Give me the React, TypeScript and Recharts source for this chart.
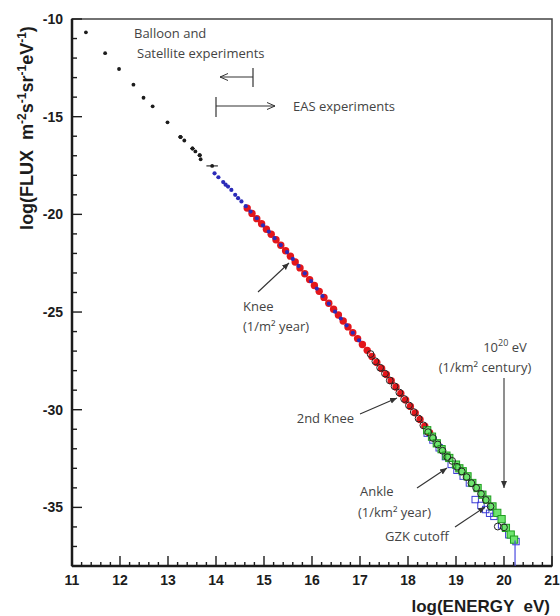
import React from "react";
import { ScatterChart, Scatter, XAxis, YAxis, ReferenceArea, ErrorBar } from "recharts";

// axis ticks
const X_MAJOR = [11, 12, 13, 14, 15, 16, 17, 18, 19, 20, 21];
const Y_MAJOR = [-10, -15, -20, -25, -30, -35];
const X_TICKS = Array.from({ length: 51 }, (_, i) => +(11 + i * 0.2).toFixed(1));
const Y_TICKS = Array.from({ length: 28 }, (_, i) => -10 - i);

// [log E, log flux]
const BALLOON = [
  [11.29, -10.68], [11.69, -11.75], [11.98, -12.56], [12.28, -13.36], [12.49, -14.03],
  [12.68, -14.47], [12.99, -15.29], [13.26, -16.04], [13.34, -16.22], [13.51, -16.63],
  [13.57, -16.78], [13.66, -16.97], [13.68, -17.18],
];
// [log E, log flux, half width]
const BALLOON_BARS = [
  [13.26, -16.04, 0.05], [13.51, -16.63, 0.05], [13.66, -16.97, 0.04], [13.92, -17.52, 0.12],
];
const DIRECT_BLUE = [
  [13.97, -17.9], [14.05, -18.1], [14.15, -18.35], [14.2, -18.48], [14.25, -18.58],
  [14.32, -18.75], [14.4, -19.0], [14.46, -19.17], [14.53, -19.34], [14.62, -19.58],
  [14.72, -19.86], [14.85, -20.2], [14.98, -20.56], [15.1, -20.88], [15.22, -21.22],
  [15.35, -21.57], [15.48, -21.93], [15.6, -22.28], [15.72, -22.64], [15.85, -23.02],
  [15.98, -23.42], [16.1, -23.8], [16.22, -24.18], [16.35, -24.57], [16.48, -24.98],
  [16.6, -25.33], [16.72, -25.68], [16.85, -26.06], [16.98, -26.45],
];
const EAS_RED = [
  [14.65, -19.68], [14.75, -19.95], [14.85, -20.22], [14.95, -20.48], [15.05, -20.76],
  [15.15, -21.02], [15.25, -21.3], [15.35, -21.58], [15.45, -21.86], [15.55, -22.14],
  [15.65, -22.44], [15.75, -22.74], [15.85, -23.04], [15.95, -23.34], [16.05, -23.64],
  [16.15, -23.94], [16.25, -24.25], [16.35, -24.55], [16.45, -24.86], [16.55, -25.15],
  [16.65, -25.46], [16.75, -25.76], [16.85, -26.06], [16.95, -26.36], [17.05, -26.66],
  [17.15, -26.96], [17.25, -27.27], [17.35, -27.58], [17.45, -27.89], [17.55, -28.2],
  [17.65, -28.52], [17.75, -28.84], [17.85, -29.17], [17.95, -29.5], [18.05, -29.83],
  [18.15, -30.16], [18.25, -30.5], [18.35, -30.84], [18.45, -31.18],
];
const OPEN_BLACK = [
  [17.22, -27.15], [17.32, -27.52], [17.42, -27.85], [17.52, -28.15], [17.62, -28.5],
  [17.72, -28.8], [17.82, -29.12], [17.92, -29.45], [18.02, -29.78], [18.12, -30.12],
  [18.22, -30.45], [18.32, -30.8], [18.42, -31.15], [18.52, -31.45], [18.62, -31.78],
  [18.72, -32.1], [18.82, -32.42], [18.92, -32.62], [19.02, -32.92], [19.12, -33.16],
  [19.22, -33.45], [19.32, -33.76], [19.42, -34.0], [19.52, -34.3], [19.62, -34.62],
  [19.72, -34.95], [19.87, -35.98], [20.0, -36.02],
];
const GREEN_SQ = [
  [18.4, -31.05], [18.5, -31.38], [18.6, -31.72], [18.7, -32.02], [18.8, -32.35],
  [18.86, -32.47], [19.0, -32.81], [19.07, -33.0], [19.14, -33.15], [19.24, -33.41],
  [19.34, -33.75], [19.45, -34.01], [19.55, -34.35], [19.65, -34.6], [19.76, -34.95],
  [19.86, -35.28], [19.95, -35.6], [20.04, -36.05], [20.14, -36.39], [20.21, -36.65],
];
const BLUE_SQ = [
  [18.4, -31.2], [18.52, -31.55], [18.65, -31.95], [18.78, -32.4], [18.9, -32.8],
  [19.02, -33.1], [19.15, -33.4], [19.28, -33.75], [19.4, -34.6], [19.52, -34.9],
  [19.62, -35.11], [19.7, -35.3], [19.79, -35.46], [19.95, -35.9], [20.1, -36.4],
  [20.25, -36.75],
];
const BLUE_LIMIT = [[20.23, -36.7], [20.23, -38]];

const toPts = (rows: number[][]) => rows.map(([e, f, ex]) => ({ e, f, ex }));

const INK = "#1c1c1c";
const NOTE = "#444";
const TICK_FONT = "'Liberation Sans', Arial, sans-serif";
const NOTE_FONT = "'Open Sans', 'DejaVu Sans', sans-serif";

const XTick = (props: any) => {
  const { x, y, payload } = props;
  const major = Number.isInteger(payload.value);
  return (
    <g>
      <line x1={x} x2={x} y1={y} y2={y - (major ? 10 : 4)} stroke={INK} strokeWidth={1.4} />
      {major && (
        <text x={x} y={y + 19} textAnchor="middle" fontFamily={TICK_FONT} fontWeight={700} fontSize={14} fill={INK}>
          {payload.value}
        </text>
      )}
    </g>
  );
};

const YTick = (props: any) => {
  const { x, y, payload } = props;
  const major = Y_MAJOR.includes(payload.value);
  return (
    <g>
      <line x1={x} x2={x + (major ? 10 : 5)} y1={y} y2={y} stroke={INK} strokeWidth={1.4} />
      {major && (
        <text x={x - 9} y={y + 5} textAnchor="end" fontFamily={TICK_FONT} fontWeight={700} fontSize={14} fill={INK}>
          {payload.value}
        </text>
      )}
    </g>
  );
};

const smallBlack = (p: any) => <circle cx={p.cx} cy={p.cy} r={1.9} fill={INK} />;
const smallBlue = (p: any) => <circle cx={p.cx} cy={p.cy} r={2.1} fill="#2b2bb8" />;
const redDot = (p: any) => <circle cx={p.cx} cy={p.cy} r={3.7} fill="#e3161b" />;
const openCircle = (p: any) => <circle cx={p.cx} cy={p.cy} r={3.4} fill="none" stroke="#222" strokeWidth={1} />;
const greenSquare = (p: any) => (
  <rect x={p.cx - 3.6} y={p.cy - 3.6} width={7.2} height={7.2} fill="#6ee46e" stroke="#1f9e1f" strokeWidth={1} />
);
const blueSquare = (p: any) => (
  <rect x={p.cx - 3.2} y={p.cy - 3.2} width={6.4} height={6.4} fill="none" stroke="#3b3bd6" strokeWidth={1} />
);
const noShape = () => <g />;

function Annotations() {
  const t = { fontFamily: NOTE_FONT, fontSize: 13, fill: NOTE };
  return (
    <svg width={560} height={616} style={{ position: "absolute", left: 0, top: 0, pointerEvents: "none" }}>
      <defs>
        <marker id="head" markerWidth="8" markerHeight="8" refX="7" refY="4" orient="auto" markerUnits="userSpaceOnUse">
          <path d="M0,1 L7,4 L0,7 Z" fill="#333" />
        </marker>
        <marker id="open" markerWidth="10" markerHeight="8" refX="8" refY="4" orient="auto" markerUnits="userSpaceOnUse">
          <path d="M0,0.5 L8,4 L0,7.5" fill="none" stroke="#333" strokeWidth={1} />
        </marker>
      </defs>

      <text x={134} y={38} {...t}>Balloon and</text>
      <text x={137} y={58} {...t}>Satellite experiments</text>
      <line x1={253} y1={68} x2={253} y2={87} stroke="#333" strokeWidth={1.2} />
      <line x1={253} y1={77} x2={220} y2={77} stroke="#333" strokeWidth={1.1} markerEnd="url(#open)" />
      <line x1={216} y1={97} x2={216} y2={117} stroke="#333" strokeWidth={1.2} />
      <line x1={216} y1={106} x2={275} y2={106} stroke="#333" strokeWidth={1.1} markerEnd="url(#open)" />
      <text x={293} y={111} {...t}>EAS experiments</text>

      <text x={243} y={311} {...t}>Knee</text>
      <text x={243} y={331} {...t}>(1/m² year)</text>
      <line x1={258} y1={292} x2={289} y2={263} stroke="#333" strokeWidth={1.1} markerEnd="url(#head)" />

      <text x={354} y={423} textAnchor="end" {...t}>2nd Knee</text>
      <line x1={360} y1={414} x2={397} y2={398} stroke="#333" strokeWidth={1.1} markerEnd="url(#head)" />

      <text x={505} y={352} textAnchor="middle" {...t}>
        10<tspan dy={-6} fontSize={9}>20</tspan>
        <tspan dy={6}> eV</tspan>
      </text>
      <text x={485} y={372} textAnchor="middle" {...t}>(1/km² century)</text>
      <line x1={504} y1={378} x2={504} y2={488} stroke="#333" strokeWidth={1.1} markerEnd="url(#head)" />

      <text x={360} y={496} {...t}>Ankle</text>
      <text x={358} y={517} {...t}>(1/km² year)</text>
      <line x1={417} y1={488} x2={447} y2={468} stroke="#333" strokeWidth={1.1} markerEnd="url(#head)" />
      <text x={385} y={541} {...t}>GZK cutoff</text>
      <line x1={455} y1={527} x2={485} y2={507} stroke="#333" strokeWidth={1.1} markerEnd="url(#head)" />

      <text x={550} y={612} textAnchor="end" fontFamily={TICK_FONT} fontWeight={700} fontSize={17} fill={INK} style={{ whiteSpace: "pre" }}>
        {"log(ENERGY  eV)"}
      </text>
      <text
        transform="translate(33,128) rotate(-90)"
        textAnchor="middle"
        fontFamily={TICK_FONT}
        fontWeight={700}
        fontSize={18}
        fill={INK}
        style={{ whiteSpace: "pre" }}
      >
        <tspan>{"log(FLUX  m"}</tspan>
        <tspan dy={-7} fontSize={12}>-2</tspan>
        <tspan dy={7}>s</tspan>
        <tspan dy={-7} fontSize={12}>-1</tspan>
        <tspan dy={7}>sr</tspan>
        <tspan dy={-7} fontSize={12}>-1</tspan>
        <tspan dy={7}>eV</tspan>
        <tspan dy={-7} fontSize={12}>-1</tspan>
        <tspan dy={7}>)</tspan>
      </text>
    </svg>
  );
}

export default function App() {
  return (
    <div style={{ position: "absolute", left: 0, top: 0, width: 560, height: 616, background: "#fff" }}>
      <ScatterChart width={560} height={616} margin={{ top: 19, right: 8, bottom: 10, left: 10 }}>
        <XAxis
          type="number"
          dataKey="e"
          domain={[11, 21]}
          ticks={X_TICKS}
          interval={0}
          height={40}
          tickSize={0}
          tickMargin={0}
          tickLine={false}
          tick={<XTick />}
          axisLine={{ stroke: INK, strokeWidth: 2.5 }}
          allowDataOverflow
        />
        <YAxis
          type="number"
          dataKey="f"
          domain={[-38, -10]}
          ticks={Y_TICKS}
          interval={0}
          width={62}
          tickSize={0}
          tickMargin={0}
          tickLine={false}
          tick={<YTick />}
          axisLine={{ stroke: INK, strokeWidth: 2.5 }}
          allowDataOverflow
        />
        <ReferenceArea x1={11} x2={21} y1={-38} y2={-10} fill="none" stroke="#444" strokeWidth={1.5} />
        <Scatter data={toPts(BALLOON)} shape={smallBlack} isAnimationActive={false} />
        <Scatter data={toPts(BALLOON_BARS)} shape={smallBlack} isAnimationActive={false}>
          <ErrorBar dataKey="ex" direction="x" width={0} stroke={INK} strokeWidth={1.1} />
        </Scatter>
        <Scatter data={toPts(EAS_RED)} shape={redDot} isAnimationActive={false} />
        <Scatter data={toPts(DIRECT_BLUE)} shape={smallBlue} isAnimationActive={false} />
        <Scatter data={toPts(BLUE_SQ)} shape={blueSquare} isAnimationActive={false} />
        <Scatter data={toPts(GREEN_SQ)} shape={greenSquare} isAnimationActive={false} />
        <Scatter data={toPts(OPEN_BLACK)} shape={openCircle} isAnimationActive={false} />
        <Scatter
          data={toPts(BLUE_LIMIT)}
          shape={noShape}
          line={{ stroke: "#4a4ae0", strokeWidth: 1.2 }}
          isAnimationActive={false}
        />
      </ScatterChart>
      <Annotations />
    </div>
  );
}
